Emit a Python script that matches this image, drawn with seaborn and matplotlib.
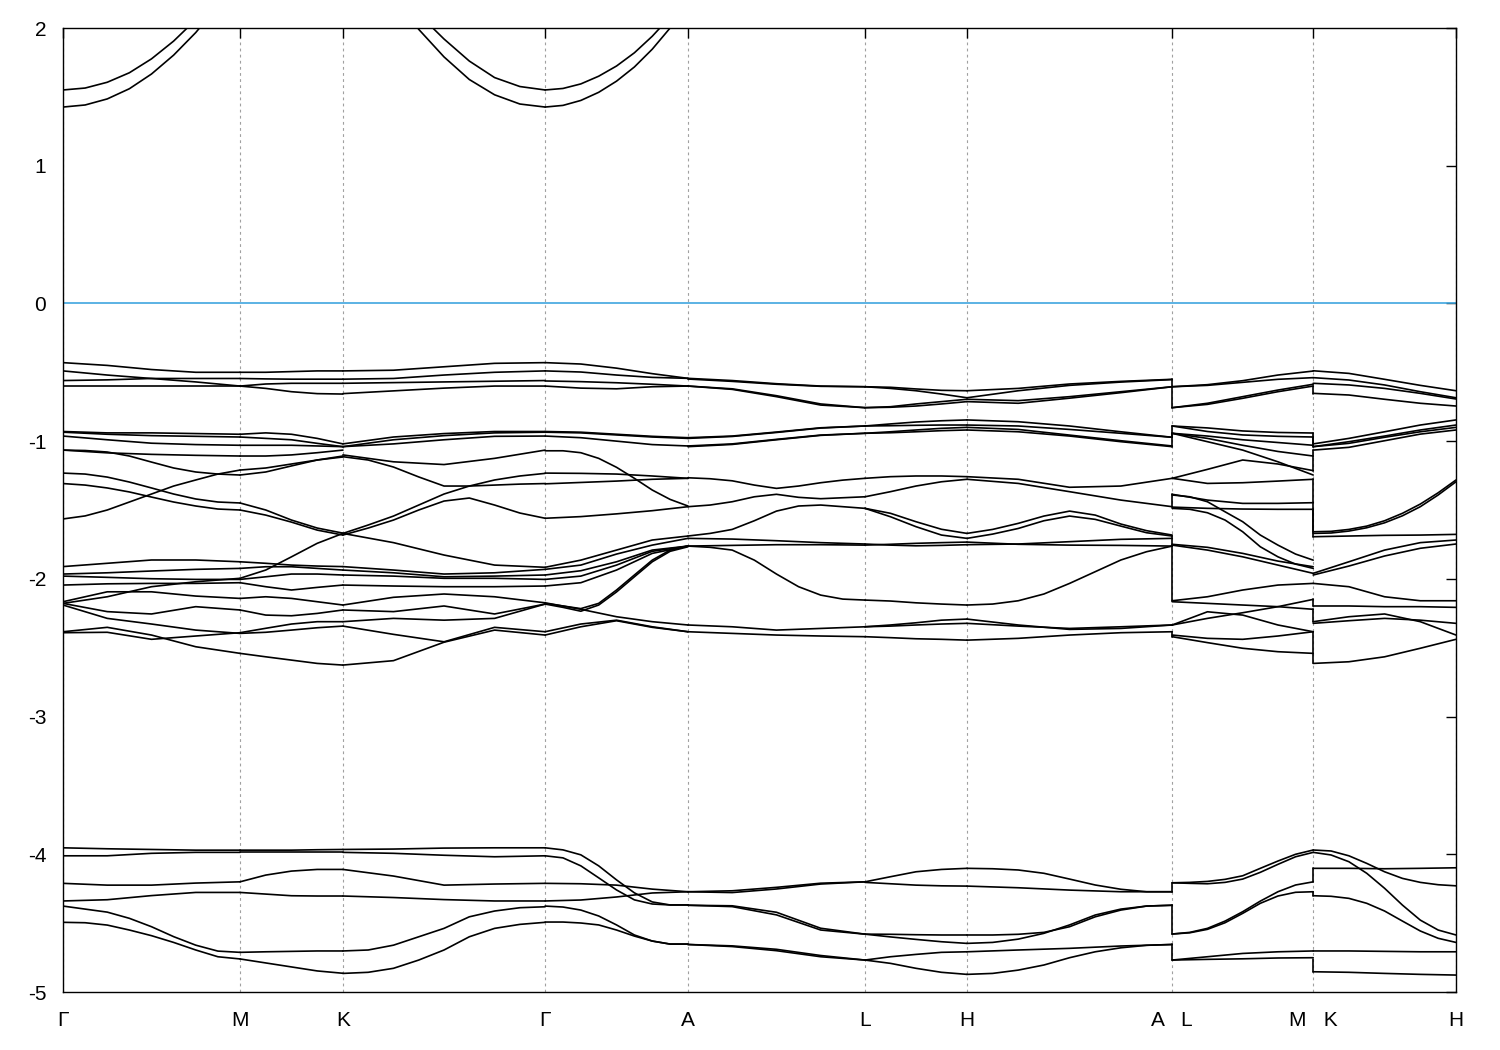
import numpy as np
import pandas as pd
import seaborn as sns
import matplotlib.pyplot as plt

# high symmetry points along the k-path
sym_labels = ["Γ", "M", "K", "Γ", "A", "L", "H", "A   L", "M   K", "H"]
sym_k = [0.0, 0.590, 0.933, 1.607, 2.083, 2.673, 3.013, 3.697, 4.167, 4.643]

# band energies (eV), sampled evenly along each segment
seg_GM = [
    [1.55, 1.564, 1.606, 1.675, 1.776, 1.905, 2.06, 2.24, 2.45],
    [1.426, 1.441, 1.485, 1.559, 1.666, 1.803, 1.967, 2.16, 2.38],
    [-0.43, -0.45, -0.48, -0.50, -0.50], [-0.49, -0.52, -0.545, -0.57, -0.60],
    [-0.56, -0.555, -0.545, -0.545, -0.545], [-0.60, -0.60, -0.60, -0.60, -0.60],
    [-0.93, -0.94, -0.94, -0.945, -0.95], [-0.935, -0.95, -0.96, -0.965, -0.97],
    [-0.963, -0.99, -1.015, -1.025, -1.03], [-1.065, -1.085, -1.096, -1.103, -1.108],
    [-1.232, -1.239, -1.261, -1.297, -1.34, -1.384, -1.42, -1.442, -1.449],
    [-1.308, -1.319, -1.34, -1.369, -1.406, -1.442, -1.471, -1.493, -1.50],
    [-1.565, -1.543, -1.50, -1.442, -1.384, -1.326, -1.282, -1.239, -1.21],
    [-1.065, -1.068, -1.079, -1.108, -1.152, -1.195, -1.224, -1.239, -1.246],
    [-1.911, -1.887, -1.863, -1.863, -1.876], [-1.965, -1.956, -1.943, -1.931, -1.924],
    [-1.98, -1.989, -1.999, -2.004, -2.004], [-2.178, -2.13, -2.057, -2.021, -1.996],
    [-2.045, -2.036, -2.033, -2.033, -2.028], [-2.166, -2.094, -2.094, -2.125, -2.142],
    [-2.178, -2.238, -2.255, -2.202, -2.226], [-2.19, -2.287, -2.328, -2.372, -2.396],
    [-2.384, -2.352, -2.408, -2.493, -2.541], [-2.391, -2.388, -2.439, -2.415, -2.391],
    [-3.953, -3.96, -3.965, -3.97, -3.97], [-4.011, -4.011, -3.993, -3.986, -3.986],
    [-4.211, -4.224, -4.224, -4.209, -4.20], [-4.339, -4.33, -4.30, -4.277, -4.277],
    [-4.376, -4.398, -4.42, -4.465, -4.526, -4.598, -4.66, -4.703, -4.712],
    [-4.494, -4.497, -4.514, -4.55, -4.591, -4.64, -4.695, -4.744, -4.76],
]
seg_MK = [
    [-0.50, -0.50, -0.495, -0.49, -0.49], [-0.60, -0.617, -0.641, -0.655, -0.658],
    [-0.545, -0.548, -0.55, -0.55, -0.55], [-0.60, -0.585, -0.58, -0.58, -0.58],
    [-0.95, -0.94, -0.95, -0.98, -1.02], [-0.97, -0.98, -0.99, -1.016, -1.04],
    [-1.03, -1.03, -1.03, -1.035, -1.04], [-1.108, -1.108, -1.10, -1.084, -1.065],
    [-1.21, -1.195, -1.166, -1.137, -1.108], [-1.246, -1.224, -1.18, -1.137, -1.115],
    [-1.449, -1.5, -1.573, -1.631, -1.668], [-1.50, -1.537, -1.588, -1.646, -1.682],
    [-1.876, -1.887, -1.90, -1.907, -1.911], [-1.924, -1.912, -1.912, -1.924, -1.936],
    [-2.004, -1.985, -1.965, -1.965, -1.972], [-1.996, -1.936, -1.84, -1.742, -1.67],
    [-2.028, -2.057, -2.081, -2.062, -2.045], [-2.142, -2.13, -2.142, -2.166, -2.19],
    [-2.226, -2.263, -2.268, -2.251, -2.226], [-2.396, -2.388, -2.372, -2.355, -2.343],
    [-2.541, -2.566, -2.59, -2.614, -2.626], [-2.391, -2.359, -2.328, -2.311, -2.311],
    [-3.97, -3.97, -3.97, -3.967, -3.965], [-3.986, -3.986, -3.986, -3.986, -3.986],
    [-4.20, -4.151, -4.122, -4.11, -4.11], [-4.277, -4.289, -4.301, -4.303, -4.303],
    [-4.712, -4.708, -4.705, -4.702, -4.702], [-4.76, -4.789, -4.818, -4.847, -4.864],
]
seg_KG = [
    [2.6, 2.45, 2.3, 2.1, 1.92, 1.76, 1.64, 1.575, 1.55],
    [2.5, 2.4, 2.24, 1.99, 1.79, 1.626, 1.515, 1.448, 1.426],
    [-0.49, -0.485, -0.46, -0.435, -0.43], [-0.55, -0.545, -0.52, -0.50, -0.49],
    [-0.58, -0.575, -0.57, -0.565, -0.56], [-0.655, -0.635, -0.615, -0.60, -0.60],
    [-1.02, -0.97, -0.945, -0.93, -0.93], [-1.04, -0.99, -0.96, -0.94, -0.935],
    [-1.04, -1.02, -0.99, -0.965, -0.963], [-1.10, -1.15, -1.17, -1.125, -1.065],
    [-1.113, -1.137, -1.188, -1.26, -1.326, -1.326, -1.319, -1.312, -1.308],
    [-1.67, -1.609, -1.544, -1.464, -1.384, -1.326, -1.282, -1.253, -1.234],
    [-1.682, -1.631, -1.573, -1.50, -1.435, -1.413, -1.464, -1.522, -1.56],
    [-1.67, -1.737, -1.827, -1.90, -1.916], [-1.911, -1.936, -1.965, -1.956, -1.931],
    [-1.936, -1.956, -1.985, -1.98, -1.972], [-1.972, -1.98, -1.996, -1.996, -2.004],
    [-2.045, -2.052, -2.057, -2.057, -2.052], [-2.19, -2.134, -2.11, -2.13, -2.174],
    [-2.226, -2.238, -2.197, -2.255, -2.183], [-2.311, -2.287, -2.30, -2.287, -2.183],
    [-2.343, -2.403, -2.457, -2.352, -2.384], [-2.626, -2.594, -2.46, -2.372, -2.408],
    [-3.965, -3.962, -3.955, -3.953, -3.953], [-3.986, -3.993, -4.007, -4.018, -4.011],
    [-4.11, -4.158, -4.224, -4.216, -4.211], [-4.303, -4.314, -4.329, -4.339, -4.339],
    [-4.702, -4.695, -4.66, -4.599, -4.538, -4.454, -4.412, -4.388, -4.381],
    [-4.865, -4.857, -4.828, -4.768, -4.695, -4.599, -4.538, -4.509, -4.494],
]
seg_GA = [
    [1.55, 1.561, 1.594, 1.65, 1.724, 1.82, 1.94, 2.08, 2.245],
    [1.426, 1.438, 1.474, 1.533, 1.614, 1.717, 1.846, 2.0, 2.18],
    [-0.43, -0.44, -0.47, -0.51, -0.544], [-0.49, -0.498, -0.52, -0.537, -0.544],
    [-0.563, -0.568, -0.576, -0.587, -0.60], [-0.60, -0.615, -0.62, -0.605, -0.60],
    [-0.93, -0.935, -0.95, -0.965, -0.975], [-0.935, -0.94, -0.955, -0.97, -0.98],
    [-0.963, -0.975, -1.0, -1.025, -1.035],
    [-1.07, -1.07, -1.084, -1.125, -1.19, -1.27, -1.355, -1.423, -1.471],
    [-1.232, -1.234, -1.239, -1.253, -1.27], [-1.31, -1.30, -1.29, -1.277, -1.27],
    [-1.56, -1.548, -1.528, -1.505, -1.476],
    [-1.916, -1.864, -1.791, -1.718, -1.689], [-1.931, -1.90, -1.82, -1.755, -1.706],
    [-1.972, -1.941, -1.876, -1.791, -1.762], [-2.004, -1.98, -1.90, -1.80, -1.762],
    [-2.052, -2.028, -1.936, -1.815, -1.762],
    [-2.178, -2.197, -2.216, -2.178, -2.081, -1.972, -1.864, -1.791, -1.762],
    [-2.183, -2.207, -2.235, -2.19, -2.095, -1.985, -1.876, -1.80, -1.767],
    [-2.174, -2.221, -2.275, -2.311, -2.335], [-2.384, -2.328, -2.30, -2.348, -2.384],
    [-2.408, -2.348, -2.304, -2.352, -2.384],
    [-3.953, -3.968, -4.004, -4.084, -4.186, -4.28, -4.346, -4.368, -4.368],
    [-4.011, -4.026, -4.084, -4.171, -4.259, -4.331, -4.361, -4.368, -4.368],
    [-4.211, -4.214, -4.224, -4.253, -4.272], [-4.339, -4.332, -4.31, -4.281, -4.272],
    [-4.376, -4.383, -4.405, -4.448, -4.513, -4.586, -4.63, -4.652, -4.652],
    [-4.492, -4.492, -4.499, -4.513, -4.55, -4.594, -4.63, -4.652, -4.652],
]
seg_AL = [
    [-0.549, -0.566, -0.587, -0.602, -0.605], [-0.544, -0.56, -0.583, -0.60, -0.605],
    [-0.60, -0.624, -0.677, -0.738, -0.757], [-0.60, -0.62, -0.67, -0.73, -0.757],
    [-0.975, -0.963, -0.934, -0.903, -0.89], [-0.98, -0.966, -0.937, -0.905, -0.89],
    [-1.035, -1.02, -0.987, -0.956, -0.943], [-1.04, -1.024, -0.99, -0.958, -0.943],
    [-1.266, -1.273, -1.288, -1.319, -1.343, -1.326, -1.302, -1.283, -1.27],
    [-1.476, -1.464, -1.44, -1.404, -1.386, -1.408, -1.418, -1.411, -1.404],
    [-1.689, -1.67, -1.641, -1.578, -1.508, -1.471, -1.464, -1.476, -1.488],
    [-1.706, -1.711, -1.723, -1.737, -1.747],
    [-1.762, -1.757, -1.752, -1.752, -1.755],
    [-1.762, -1.771, -1.791, -1.864, -1.965, -2.057, -2.118, -2.147, -2.154],
    [-2.335, -2.348, -2.372, -2.36, -2.348], [-2.384, -2.396, -2.408, -2.415, -2.42],
    [-4.272, -4.278, -4.252, -4.216, -4.20], [-4.272, -4.265, -4.24, -4.21, -4.20],
    [-4.37, -4.374, -4.421, -4.537, -4.58], [-4.37, -4.38, -4.44, -4.55, -4.58],
    [-4.655, -4.67, -4.70, -4.744, -4.768], [-4.655, -4.665, -4.69, -4.735, -4.768],
]
seg_LH = [
    [-0.605, -0.609, -0.621, -0.631, -0.634], [-0.605, -0.617, -0.634, -0.658, -0.685],
    [-0.757, -0.750, -0.730, -0.713, -0.696], [-0.757, -0.754, -0.745, -0.73, -0.713],
    [-0.89, -0.875, -0.861, -0.852, -0.846], [-0.89, -0.888, -0.885, -0.883, -0.883],
    [-0.943, -0.932, -0.919, -0.907, -0.90], [-0.943, -0.939, -0.932, -0.924, -0.919],
    [-1.27, -1.258, -1.253, -1.253, -1.258], [-1.404, -1.367, -1.326, -1.295, -1.277],
    [-1.488, -1.524, -1.585, -1.64, -1.67], [-1.488, -1.549, -1.621, -1.682, -1.706],
    [-1.747, -1.755, -1.76, -1.757, -1.752], [-1.755, -1.749, -1.742, -1.737, -1.733],
    [-2.154, -2.161, -2.174, -2.183, -2.19], [-2.348, -2.335, -2.319, -2.30, -2.292],
    [-2.348, -2.343, -2.335, -2.328, -2.323], [-2.42, -2.427, -2.435, -2.439, -2.445],
    [-4.20, -4.163, -4.127, -4.11, -4.102], [-4.204, -4.214, -4.224, -4.229, -4.231],
    [-4.58, -4.581, -4.584, -4.586, -4.586], [-4.58, -4.60, -4.618, -4.635, -4.647],
    [-4.768, -4.744, -4.727, -4.712, -4.708], [-4.768, -4.792, -4.828, -4.857, -4.872],
]
seg_HA = [
    [-0.634, -0.617, -0.585, -0.566, -0.551], [-0.685, -0.634, -0.595, -0.571, -0.553],
    [-0.696, -0.706, -0.677, -0.641, -0.605], [-0.713, -0.725, -0.688, -0.648, -0.605],
    [-0.846, -0.859, -0.89, -0.932, -0.972], [-0.883, -0.89, -0.915, -0.943, -0.972],
    [-0.90, -0.915, -0.956, -0.997, -1.035], [-0.919, -0.932, -0.963, -1.004, -1.04],
    [-1.258, -1.277, -1.335, -1.326, -1.27], [-1.277, -1.307, -1.367, -1.428, -1.476],
    [-1.67, -1.641, -1.597, -1.544, -1.508, -1.537, -1.602, -1.65, -1.682],
    [-1.706, -1.675, -1.634, -1.578, -1.544, -1.568, -1.617, -1.665, -1.689],
    [-1.752, -1.747, -1.73, -1.713, -1.706], [-1.733, -1.749, -1.755, -1.757, -1.762],
    [-2.19, -2.183, -2.159, -2.11, -2.033, -1.948, -1.863, -1.803, -1.762],
    [-2.292, -2.335, -2.367, -2.36, -2.335],
    [-2.323, -2.343, -2.36, -2.348, -2.335], [-2.445, -2.432, -2.408, -2.391, -2.384],
    [-4.102, -4.105, -4.114, -4.138, -4.18, -4.223, -4.254, -4.272, -4.272],
    [-4.231, -4.243, -4.26, -4.272, -4.272],
    [-4.586, -4.586, -4.581, -4.567, -4.526, -4.454, -4.405, -4.376, -4.37],
    [-4.647, -4.64, -4.616, -4.574, -4.513, -4.441, -4.398, -4.376, -4.37],
    [-4.708, -4.695, -4.683, -4.666, -4.655],
    [-4.872, -4.865, -4.841, -4.804, -4.751, -4.708, -4.679, -4.661, -4.655],
]
seg_LM = [
    [-0.605, -0.59, -0.561, -0.52, -0.491], [-0.605, -0.595, -0.573, -0.551, -0.539],
    [-0.757, -0.725, -0.677, -0.629, -0.587], [-0.757, -0.733, -0.689, -0.641, -0.60],
    [-0.89, -0.904, -0.926, -0.937, -0.941], [-0.89, -0.93, -0.955, -0.965, -0.97],
    [-0.943, -0.963, -0.99, -1.01, -1.03], [-0.943, -0.98, -1.03, -1.075, -1.108],
    [-0.943, -1.004, -1.065, -1.15, -1.246],
    [-1.27, -1.205, -1.137, -1.166, -1.214], [-1.27, -1.307, -1.302, -1.29, -1.277],
    [-1.386, -1.428, -1.452, -1.452, -1.447], [-1.479, -1.488, -1.493, -1.495, -1.495],
    [-1.391, -1.404, -1.44, -1.513, -1.585, -1.682, -1.755, -1.82, -1.864],
    [-1.488, -1.495, -1.52, -1.573, -1.658, -1.767, -1.84, -1.893, -1.924],
    [-1.749, -1.771, -1.815, -1.871, -1.912], [-1.755, -1.791, -1.84, -1.90, -1.96],
    [-2.159, -2.13, -2.081, -2.045, -2.033], [-2.166, -2.178, -2.19, -2.202, -2.221],
    [-2.335, -2.287, -2.246, -2.202, -2.149], [-2.335, -2.239, -2.263, -2.335, -2.384],
    [-2.408, -2.432, -2.439, -2.415, -2.384], [-2.42, -2.463, -2.504, -2.529, -2.541],
    [-4.207, -4.204, -4.197, -4.182, -4.156, -4.102, -4.049, -4.0, -3.969],
    [-4.207, -4.211, -4.214, -4.204, -4.18, -4.131, -4.073, -4.018, -3.986],
    [-4.579, -4.567, -4.538, -4.485, -4.417, -4.34, -4.272, -4.223, -4.20],
    [-4.579, -4.57, -4.545, -4.497, -4.429, -4.356, -4.303, -4.276, -4.272],
    [-4.768, -4.744, -4.72, -4.708, -4.702], [-4.768, -4.763, -4.759, -4.753, -4.751],
]
seg_KH = [
    [-0.489, -0.508, -0.551, -0.595, -0.634], [-0.539, -0.556, -0.592, -0.641, -0.685],
    [-0.58, -0.592, -0.617, -0.653, -0.694], [-0.653, -0.665, -0.696, -0.725, -0.745],
    [-1.02, -0.98, -0.932, -0.883, -0.846], [-1.04, -1.004, -0.963, -0.919, -0.883],
    [-1.04, -1.016, -0.972, -0.932, -0.90], [-1.065, -1.045, -0.997, -0.949, -0.919],
    [-1.658, -1.655, -1.641, -1.617, -1.578, -1.524, -1.457, -1.375, -1.282],
    [-1.67, -1.667, -1.653, -1.629, -1.593, -1.542, -1.476, -1.391, -1.295],
    [-1.694, -1.689, -1.684, -1.682, -1.677], [-1.96, -1.876, -1.791, -1.737, -1.718],
    [-1.972, -1.907, -1.834, -1.778, -1.747], [-2.033, -2.057, -2.13, -2.159, -2.159],
    [-2.197, -2.197, -2.202, -2.202, -2.207], [-2.311, -2.275, -2.255, -2.311, -2.408],
    [-2.323, -2.304, -2.287, -2.30, -2.323], [-2.614, -2.602, -2.566, -2.504, -2.439],
    [-3.969, -3.976, -4.011, -4.066, -4.127, -4.175, -4.204, -4.221, -4.229],
    [-3.986, -4.005, -4.054, -4.138, -4.247, -4.369, -4.478, -4.55, -4.586],
    [-4.102, -4.102, -4.105, -4.102, -4.098],
    [-4.301, -4.305, -4.32, -4.356, -4.412, -4.485, -4.557, -4.61, -4.64],
    [-4.702, -4.702, -4.705, -4.708, -4.708], [-4.853, -4.857, -4.865, -4.872, -4.877],
]

# steps at the path breaks: (energy on the left side, energy on the right side)
step_AL = [(-0.551, -0.757), (-0.972, -0.89), (-1.04, -0.943), (-1.476, -1.386),
           (-1.689, -1.755), (-1.762, -2.159), (-2.384, -2.42),
           (-4.272, -4.207), (-4.37, -4.58), (-4.655, -4.768)]
step_MK = [(-0.60, -0.655), (-0.941, -1.02), (-0.97, -1.04), (-1.214, -1.065),
           (-1.277, -1.657), (-1.495, -1.694), (-2.149, -2.197), (-2.221, -2.311),
           (-2.384, -2.614), (-4.20, -4.102), (-4.272, -4.301), (-4.76, -4.853)]

segments = [(0, 1, seg_GM), (1, 2, seg_MK), (2, 3, seg_KG), (3, 4, seg_GA),
            (4, 5, seg_AL), (5, 6, seg_LH), (6, 7, seg_HA), (7, 8, seg_LM),
            (8, 9, seg_KH)]

rows = []
for si, (a, b, bands) in enumerate(segments):
    for bi, vals in enumerate(bands):
        ks = np.linspace(sym_k[a], sym_k[b], len(vals))
        for k, e in zip(ks, vals):
            rows.append((k, e, f"s{si}b{bi}"))
for idx, steps in ((7, step_AL), (8, step_MK)):
    for j, (e1, e2) in enumerate(steps):
        rows.append((sym_k[idx], e1, f"j{idx}_{j}"))
        rows.append((sym_k[idx], e2, f"j{idx}_{j}"))
df = pd.DataFrame(rows, columns=["k", "E", "line"])

sns.set_style("white")
plt.rcParams['font.family'] = ['Liberation Sans', 'DejaVu Sans']

fig = plt.figure(figsize=(15, 10.5), dpi=100)
ax = fig.add_axes([63 / 1500, 1 - 992 / 1050, 1393 / 1500, 964 / 1050])

ax.axhline(0, color='#3fa6df', lw=1.2, zorder=2)
sns.lineplot(data=df, x="k", y="E", units="line", estimator=None, sort=False,
             color="black", lw=1.2, legend=False, ax=ax, zorder=3)

ax.set_xlim(sym_k[0], sym_k[-1])
ax.set_ylim(-5, 2)
ax.set_xticks(sym_k)
ax.set_xticklabels(sym_labels)
ax.set_yticks(range(-5, 3))
ax.set_yticklabels([str(v) for v in range(-5, 3)])
ax.set_xlabel("")
ax.set_ylabel("")
ax.grid(axis='x', color='#a0a0a0', ls=(0, (2.5, 3)), lw=0.8, zorder=1)
ax.grid(axis='y', visible=False)
ax.tick_params(direction='in', length=7, width=1, top=True, right=True,
               labelsize=15, colors='black')
ax.tick_params(axis='x', pad=14)
ax.tick_params(axis='y', pad=12)
for sp in ax.spines.values():
    sp.set_color('black')
    sp.set_linewidth(1.0)

fig.savefig("out.png", dpi=100)
